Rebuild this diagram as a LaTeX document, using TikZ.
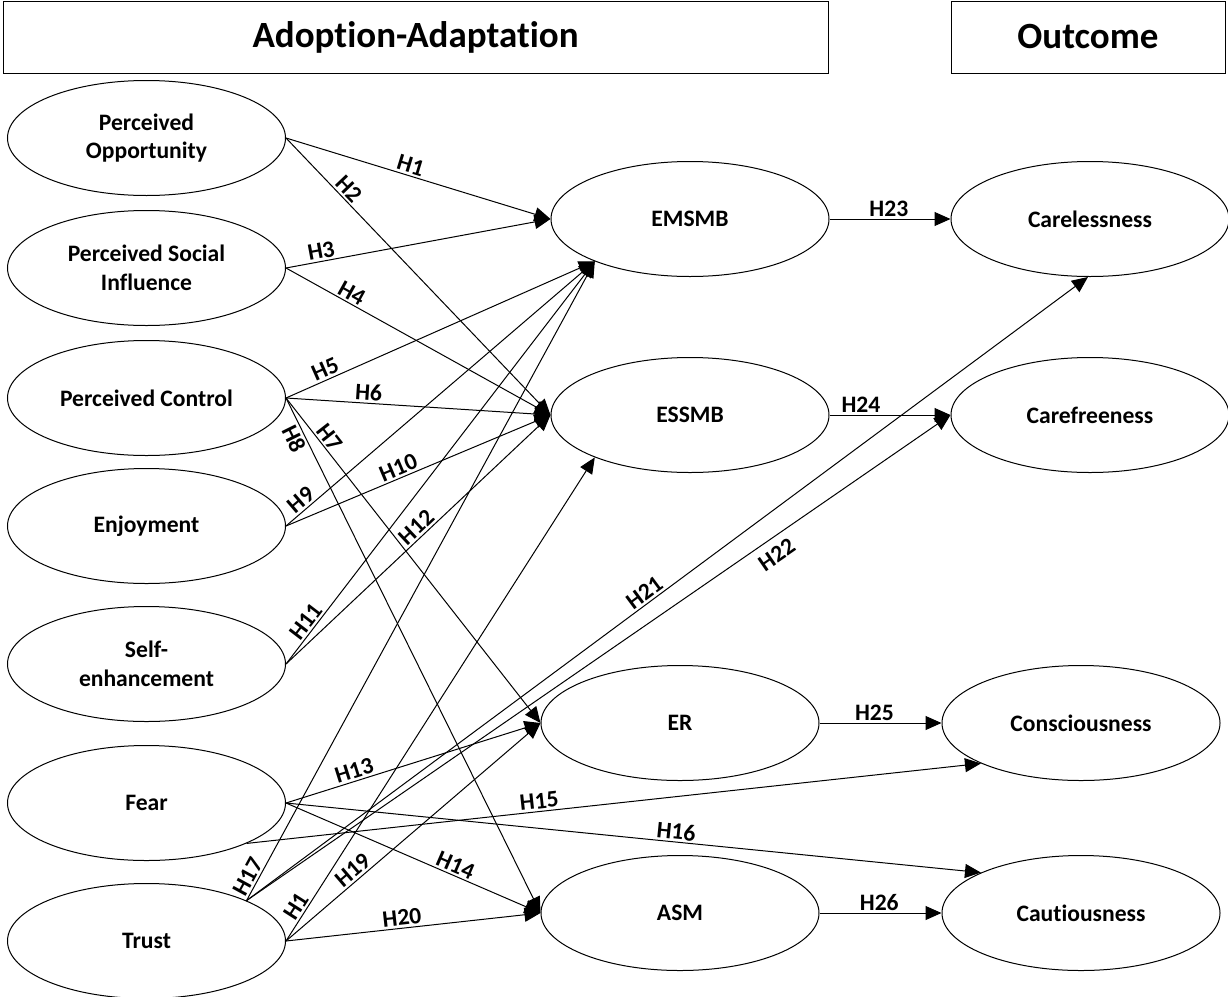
\documentclass[tikz,border=0pt]{standalone}
\usepackage{fontspec}
\setmainfont[Ligatures=NoCommon]{Carlito}
\usepackage{tikz}
\usetikzlibrary{shapes.geometric,arrows.meta,positioning}
\newcommand{\txtfont}{\fontsize{23.6}{28.5}\selectfont\bfseries}
\newcommand{\hdrfont}{\fontsize{37}{44}\selectfont\bfseries}

\begin{document}
\begin{tikzpicture}[x=1pt,y=-1pt,
  lv/.style={draw,ellipse,line width=1pt,minimum width=278pt,minimum height=115pt,
             inner sep=0pt,align=center,font=\txtfont},
  hdr/.style={draw,line width=1pt,minimum height=72pt,inner sep=0pt,font=\hdrfont},
  hyp/.style={-{Triangle[length=16pt,width=14pt]},line width=1pt},
  hlab/.style={sloped,inner sep=2pt,font=\txtfont}
]
\useasboundingbox (0,0) rectangle (1228,996);

\node[hdr,minimum width=825pt] (adopt) at (415.5,37) {Adoption-Adaptation};
\node[hdr,minimum width=274pt] (outc) at (1088,37) {Outcome};

% antecedents
\node[lv] (po) at (146.5,138) {Perceived\\Opportunity};
\node[lv,below=14pt of po] (psi) {Perceived Social\\Influence};
\node[lv,below=14pt of psi] (pc) {Perceived Control};
\node[lv,below=12pt of pc] (en) {Enjoyment};
\node[lv,below=22pt of en] (se) {Self-\\enhancement};
\node[lv,below=23pt of se] (fear) {Fear};
\node[lv,below=22pt of fear] (trust) {Trust};

% behaviours
\node[lv] (emsmb) at (690,219) {EMSMB};
\node[lv,below=80pt of emsmb] (essmb) {ESSMB};
\node[lv] (er) at (680,723) {ER};
\node[lv,below=74pt of er] (asm) {ASM};

% outcomes
\node[lv,right=121pt of emsmb] (careless) {Carelessness};
\node[lv,right=121pt of essmb] (carefree) {Carefreeness};
\node[lv,right=122pt of er] (consc) {Consciousness};
\node[lv,right=122pt of asm] (caut) {Cautiousness};

\draw[hyp] (po.east) -- node[hlab,above,pos=.46]{H1} (emsmb.west);
\draw[hyp] (po.east) -- node[hlab,above,pos=.21]{H2} (essmb.west);
\draw[hyp] (psi.east) -- node[hlab,above,pos=.14]{H3} (emsmb.west);
\draw[hyp] (psi.east) -- node[hlab,above,pos=.23]{H4} (essmb.west);
\draw[hyp] (pc.east) -- node[hlab,above,pos=.14]{H5} (emsmb.204);
\draw[hyp] (pc.east) -- node[hlab,above,pos=.31]{H6} (essmb.west);
\draw[hyp] (pc.east) -- node[hlab,above,pos=.14]{H7} (er.west);
\draw[hyp] (pc.east) -- node[hlab,below,pos=.07]{H8} (asm.west);
\draw[hyp] (en.east) -- node[hlab,above,pos=.07]{H9} (emsmb.204);
\draw[hyp] (en.east) -- node[hlab,above,pos=.44]{H10} (essmb.west);
\draw[hyp] (se.east) -- node[hlab,above,pos=.09]{H11} (emsmb.204);
\draw[hyp] (se.east) -- node[hlab,above,pos=.52]{H12} (essmb.west);
\draw[hyp] (fear.east) -- node[hlab,above,pos=.28]{H13} (er.west);
\draw[hyp] (fear.east) -- node[hlab,above,pos=.65]{H14} (asm.west);
\draw[hyp] (fear.338) -- node[hlab,above,pos=.40]{H15} (consc.202);
\draw[hyp] (fear.east) -- node[hlab,above,pos=.56]{H16} (caut.158);
\draw[hyp] (trust.22) -- node[hlab,above,pos=.03]{H17} (emsmb.204);
\draw[hyp] (trust.east) -- node[hlab,above,pos=.06]{H1} (essmb.204);
\draw[hyp] (trust.east) -- node[hlab,above,pos=.29]{H19} (er.west);
\draw[hyp] (trust.east) -- node[hlab,above,pos=.46]{H20} (asm.west);
\draw[hyp] (trust.22) -- node[hlab,above,pos=.48]{H21} (careless.268);
\draw[hyp] (trust.22) -- node[hlab,below=6pt,pos=.74]{H22} (carefree.west);

\draw[hyp] (emsmb.east) -- node[hlab,above,pos=.49]{H23} (careless.west);
\draw[hyp] (essmb.east) -- node[hlab,above,pos=.26]{H24} (carefree.west);
\draw[hyp] (er.east) -- node[hlab,above,pos=.45]{H25} (consc.west);
\draw[hyp] (asm.east) -- node[hlab,above,pos=.49]{H26} (caut.west);
\end{tikzpicture}
\end{document}
